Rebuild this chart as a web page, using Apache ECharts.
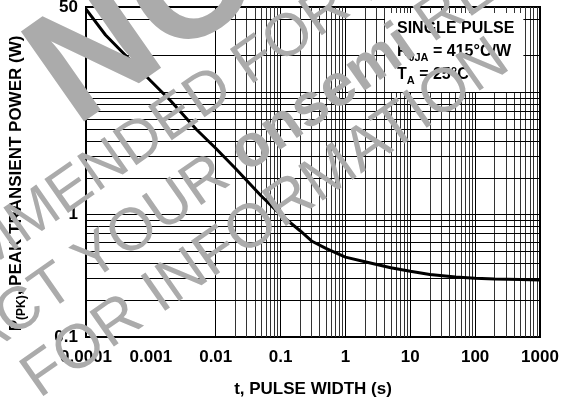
<!DOCTYPE html>
<html><head><meta charset="utf-8">
<script src="https://cdn.jsdelivr.net/npm/echarts@6/dist/echarts.min.js"></script>
<style>html,body{margin:0;padding:0;background:#fff}#c{width:568px;height:402px}</style>
</head><body><div id="c"></div>
<script>
// ---- data ----
const pulseWidth = [0.0001, 0.0002, 0.0005, 0.001, 0.002, 0.005, 0.01, 0.02, 0.05, 0.1, 0.2, 0.3, 0.5, 1, 2, 5, 10, 20, 50, 100, 200, 500, 1000];
const peakPower  = [48, 29.5, 18, 12.4, 8.6, 5.0, 3.5, 2.4, 1.43, 1.0, 0.74, 0.61, 0.53, 0.45, 0.413, 0.368, 0.345, 0.325, 0.309, 0.302, 0.298, 0.295, 0.292];
const xTickValues = [0.0001, 0.001, 0.01, 0.1, 1, 10, 100, 1000];
const xTickLabels = ['0.0001', '0.001', '0.01', '0.1', '1', '10', '100', '1000'];
const yTickValues = [0.1, 1, 50];
const yTickLabels = ['0.1', '1', '50'];
const xGridLines = [0.0002,0.0003,0.0004,0.0005,0.0006,0.0007,0.0008,0.0009,0.001,
  0.002,0.003,0.004,0.005,0.006,0.007,0.008,0.009,0.01,
  0.02,0.03,0.04,0.05,0.06,0.07,0.08,0.09,0.1,
  0.2,0.3,0.4,0.5,0.6,0.7,0.8,0.9,1,
  2,3,4,5,6,7,8,9,10,
  20,30,40,50,60,70,80,90,100,
  200,300,400,500,600,700,800,900];
const xMajorLines = [0.001, 0.01, 0.1, 1, 10, 100];
const yGridLines = [0.2,0.3,0.4,0.5,0.6,0.7,0.8,0.9,1,2,3,4,5,6,7,8,9,10,20,40];

const FONT = '"Liberation Sans", Arial, sans-serif';
function labelFor(values, labels) {
  return function (v) {
    const i = values.findIndex(t => Math.abs(Math.log10(t) - Math.log10(v)) < 1e-6);
    return i >= 0 ? labels[i] : '';
  };
}

// watermark geometry (decoration)
const WM_ANG = 35 * Math.PI / 180;
const WM_O = [25, 410];
const WM_FILL = '#ababab';
function wmPos(a, p) {
  const d = [Math.cos(WM_ANG), -Math.sin(WM_ANG)];
  const n = [-Math.sin(WM_ANG), -Math.cos(WM_ANG)];
  return [WM_O[0] + a * d[0] + p * n[0], WM_O[1] + a * d[1] + p * n[1]];
}
function wmText(text, size, weight, a, p, rich) {
  const pos = wmPos(a, p - 0.21 * size);
  return {
    type: 'text', x: pos[0], y: pos[1], rotation: WM_ANG, z: 100, silent: true,
    style: {
      text: text, font: weight + ' ' + size + 'px ' + FONT, fill: WM_FILL,
      align: 'left', verticalAlign: 'bottom', rich: rich || {}
    }
  };
}

const chart = echarts.init(document.getElementById('c'), null, { renderer: 'canvas' });
chart.setOption({
  animation: false,
  backgroundColor: '#fff',
  grid: { left: 86, right: 28, top: 7, bottom: 65, show: true, borderColor: '#000', borderWidth: 2, outerBoundsMode: 'none' },
  xAxis: {
    type: 'log', logBase: 10, min: 0.0001, max: 1000,
    name: 't, PULSE WIDTH (s)', nameLocation: 'middle', nameGap: 44,
    nameTextStyle: { fontFamily: FONT, fontWeight: 'bold', fontSize: 17, color: '#000' },
    axisLine: { show: false }, axisTick: { show: false }, splitLine: { show: false },
    axisLabel: { formatter: labelFor(xTickValues, xTickLabels), fontFamily: FONT, fontWeight: 'bold', fontSize: 17, color: '#000', margin: 12 }
  },
  yAxis: {
    type: 'log', logBase: 10, min: 0.1, max: 50,
    name: '{p|P}{s|(PK)}{p|, PEAK TRANSIENT POWER (W)}', nameLocation: 'middle', nameGap: 58,
    nameTextStyle: {
      padding: [0, 23, 0, 0],
      rich: {
        p: { fontFamily: FONT, fontWeight: 'bold', fontSize: 17, color: '#000', lineHeight: 24 },
        s: { fontFamily: FONT, fontWeight: 'bold', fontSize: 12, color: '#000', lineHeight: 12, verticalAlign: 'bottom' }
      }
    },
    axisLine: { show: false }, axisTick: { show: false }, splitLine: { show: false },
    axisLabel: { formatter: labelFor(yTickValues, yTickLabels), fontFamily: FONT, fontWeight: 'bold', fontSize: 17, color: '#000', margin: 8 }
  },
  series: [
    {
      type: 'line', data: [], silent: true,
      markLine: {
        silent: true, symbol: ['none', 'none'], label: { show: false }, animation: false,
        lineStyle: { type: 'solid', width: 1, color: '#000' },
        data: xGridLines.map(v => ({ xAxis: v, lineStyle: { color: xMajorLines.indexOf(v) >= 0 ? '#000' : '#333', width: 1, type: 'solid' } }))
          .concat(yGridLines.map(v => ({ yAxis: v, lineStyle: { color: '#000', width: 1, type: 'solid' } })))
      }
    },
    {
      type: 'line', data: pulseWidth.map((t, i) => [t, peakPower[i]]),
      symbol: 'none', smooth: false, silent: true, z: 5,
      lineStyle: { color: '#000', width: 3 }
    }
  ],
  graphic: [
    {
      type: 'text', x: 385, y: 13, z: 50, silent: true,
      style: {
        text: '{t|SINGLE PULSE}\n{t|R}{s|θJA}{t| = 415°C/W}\n{t|T}{s|A}{t| = 25°C}',
        backgroundColor: '#fff', padding: [4, 9, 6, 12],
        rich: {
          t: { font: 'bold 16px ' + FONT, fill: '#000', lineHeight: 23 },
          s: { font: 'bold 11px ' + FONT, fill: '#000', lineHeight: 12, verticalAlign: 'bottom' }
        }
      }
    },
    wmText('NOT', 160, 'bold', 203, 200),
    wmText('RECOMMENDED FOR NEW DESIGN', 60, 'normal', -130, 136),
    wmText('CONTACT YOUR {b|onsemi} REPRESENTATIVE', 60, 'normal', -175, 66,
      { b: { font: 'bold 60px ' + FONT, fill: WM_FILL } }),
    wmText('FOR INFORMATION', 62, 'normal', 18, 0)
  ]
});
</script></body></html>
